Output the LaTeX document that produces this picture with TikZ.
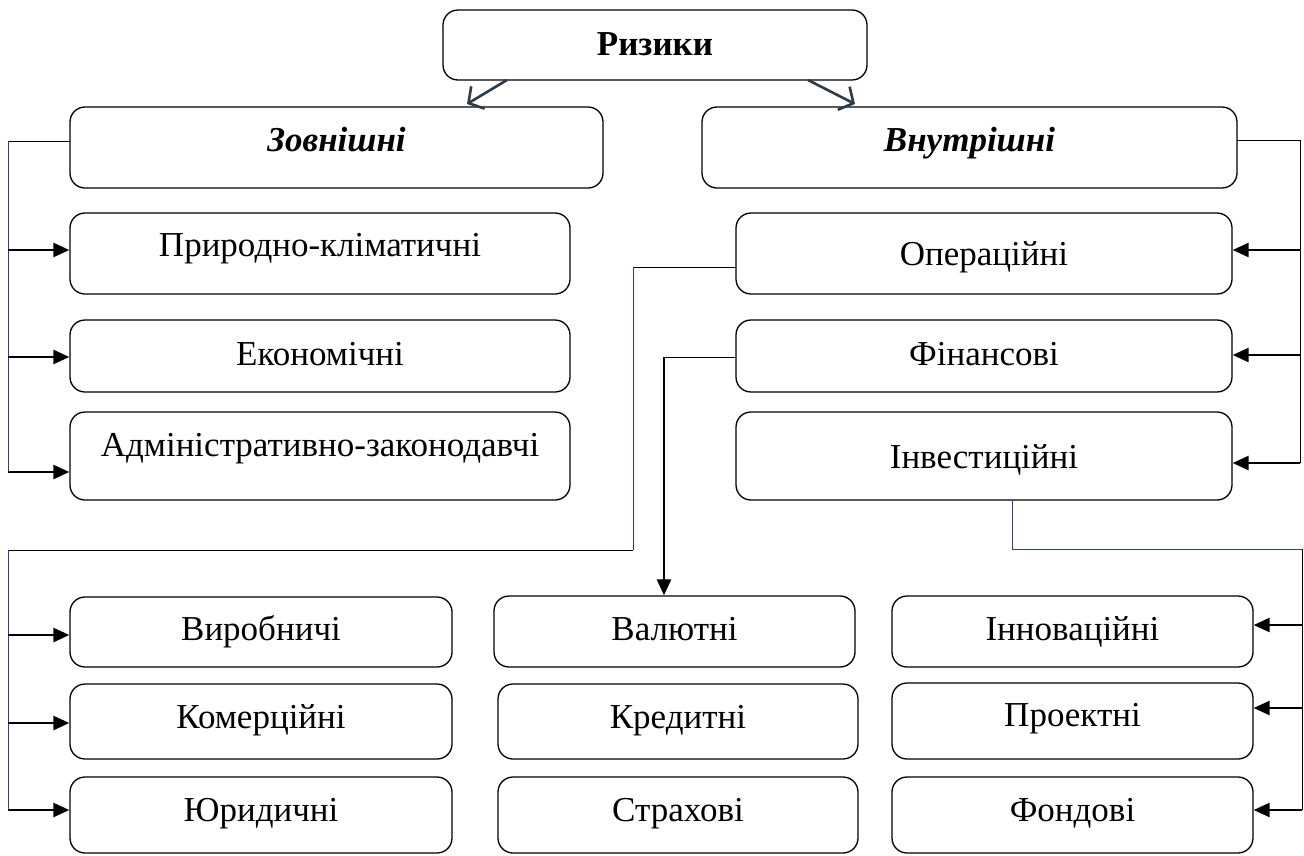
\documentclass[tikz,border=0pt]{standalone}
\usepackage{fontspec}
\setmainfont{Liberation Serif}
\usetikzlibrary{arrows.meta,calc}
\definecolor{navy}{HTML}{2B3F8A}
\definecolor{slate}{HTML}{2E3A46}
\begin{document}
\begin{tikzpicture}[x=1pt,y=-1pt,
  rbox/.style={draw,rounded corners=15pt,line width=1.3pt,inner sep=0pt,
    font=\fontsize{35}{40}\selectfont},
  bl/.style={text height=#1, text depth=0pt},
  thinln/.style={line width=1pt},
  navyln/.style={line width=1pt,draw=navy},
  arr/.style={line width=2.6pt,-{Triangle[length=16pt,width=14pt]}},
  toparr/.style={line width=2.6pt,draw=slate,-{Straight Barb[length=11pt,width=26pt,line width=2.6pt]}}
]
\useasboundingbox (0,0) rectangle (1304,855);
% boxes
\node[rbox,bl=20pt,minimum width=424pt,minimum height=70pt] (top) at (655,45) {\textbf{Ризики}};
\node[rbox,bl=8pt,minimum width=533pt,minimum height=81pt] (zovn) at (336.5,147.5) {\textbf{\textit{Зовнішні}}};
\node[rbox,bl=8pt,minimum width=535pt,minimum height=81pt] (vnut) at (969.5,147.5) {\textbf{\textit{Внутрішні}}};
\node[rbox,bl=6pt,minimum width=500pt,minimum height=81pt] (pk) at (320,253.5) {Природно-кліматичні};
\node[rbox,bl=18pt,minimum width=500pt,minimum height=72pt] (ek) at (320,356) {Економічні};
\node[rbox,bl=0pt,minimum width=500pt,minimum height=88pt] (adm) at (320,456) {Адміністративно-законодавчі};
\node[rbox,bl=23pt,minimum width=496pt,minimum height=81pt] (oper) at (984,253.5) {Операційні};
\node[rbox,bl=18pt,minimum width=496pt,minimum height=72pt] (fin) at (984,356) {Фінансові};
\node[rbox,bl=24pt,minimum width=496pt,minimum height=88pt] (inv) at (984,456) {Інвестиційні};
\node[rbox,bl=17.4pt,minimum width=382pt,minimum height=70pt] (vyr) at (261,632) {Виробничі};
\node[rbox,bl=13pt,minimum width=382pt,minimum height=75pt] (kom) at (261,721.5) {Комерційні};
\node[rbox,bl=13.4pt,minimum width=382pt,minimum height=76pt] (yur) at (261,815) {Юридичні};
\node[rbox,bl=18pt,minimum width=361pt,minimum height=71pt] (val) at (674.5,631.5) {Валютні};
\node[rbox,bl=13pt,minimum width=360pt,minimum height=75pt] (kred) at (678,721.5) {Кредитні};
\node[rbox,bl=13.4pt,minimum width=360pt,minimum height=76pt] (strah) at (678,815) {Страхові};
\node[rbox,bl=18pt,minimum width=361pt,minimum height=71pt] (innov) at (1072.5,631.5) {Інноваційні};
\node[rbox,bl=11.4pt,minimum width=361pt,minimum height=76pt] (proj) at (1072.5,721) {Проектні};
\node[rbox,bl=13.4pt,minimum width=361pt,minimum height=76pt] (fond) at (1072.5,815) {Фондові};
% top arrows
\coordinate (t1) at (507,80);
\coordinate (t1e) at (467,104);
\coordinate (t2) at (808,80);
\coordinate (t2e) at (855,104);
\draw[toparr] (t1) -- (t1e);
\draw[toparr] (t2) -- (t2e);
% left trunk
\coordinate (zl) at (70,141);
\coordinate (L0) at (8,141);
\coordinate (L1) at (8,250);
\coordinate (L2) at (8,357);
\coordinate (L3) at (8,472);
\draw[thinln] (zl) -- (L0);
\draw[navyln] (L0) -- (L3);
\draw[arr] (L1) -- (L1 -| pk.west);
\draw[arr] (L2) -- (L2 -| ek.west);
\draw[arr] (L3) -- (L3 -| adm.west);
% right trunk
\coordinate (vr) at (1237,140);
\coordinate (R0) at (1300,140);
\coordinate (R1) at (1300,250);
\coordinate (R2) at (1300,355);
\coordinate (R3) at (1300,463);
\draw[thinln] (vr) -- (R0) -- (R3);
\draw[arr] (R1) -- (R1 -| oper.east);
\draw[arr] (R2) -- (R2 -| fin.east);
\draw[arr] (R3) -- (R3 -| inv.east);
% operational branch
\coordinate (ow) at (736,267);
\coordinate (o1) at (633,267);
\coordinate (o2) at (633,550);
\coordinate (B0) at (8,550);
\coordinate (B1) at (8,635);
\coordinate (B2) at (8,723);
\coordinate (B3) at (8,810);
\draw[thinln] (ow) -- (o1);
\draw[navyln] (o1) -- (o2);
\draw[thinln] (o2) -- (B0);
\draw[navyln] (B0) -- (B3);
\draw[arr] (B1) -- (B1 -| vyr.west);
\draw[arr] (B2) -- (B2 -| kom.west);
\draw[arr] (B3) -- (B3 -| yur.west);
% financial branch
\coordinate (fw) at (736,357);
\coordinate (f1) at (664,357);
\draw[thinln] (fw) -- (f1);
\draw[arr] (f1) -- (f1 |- val.north);
% investment branch
\coordinate (is) at (1012,500);
\coordinate (i1) at (1012,549);
\coordinate (S0) at (1302,549);
\coordinate (S1) at (1302,625);
\coordinate (S2) at (1302,708);
\coordinate (S3) at (1302,810);
\draw[navyln] (is) -- (i1) -- (S0);
\draw[thinln] (S0) -- (S3);
\draw[arr] (S1) -- (S1 -| innov.east);
\draw[arr] (S2) -- (S2 -| proj.east);
\draw[arr] (S3) -- (S3 -| fond.east);
\end{tikzpicture}
\end{document}
